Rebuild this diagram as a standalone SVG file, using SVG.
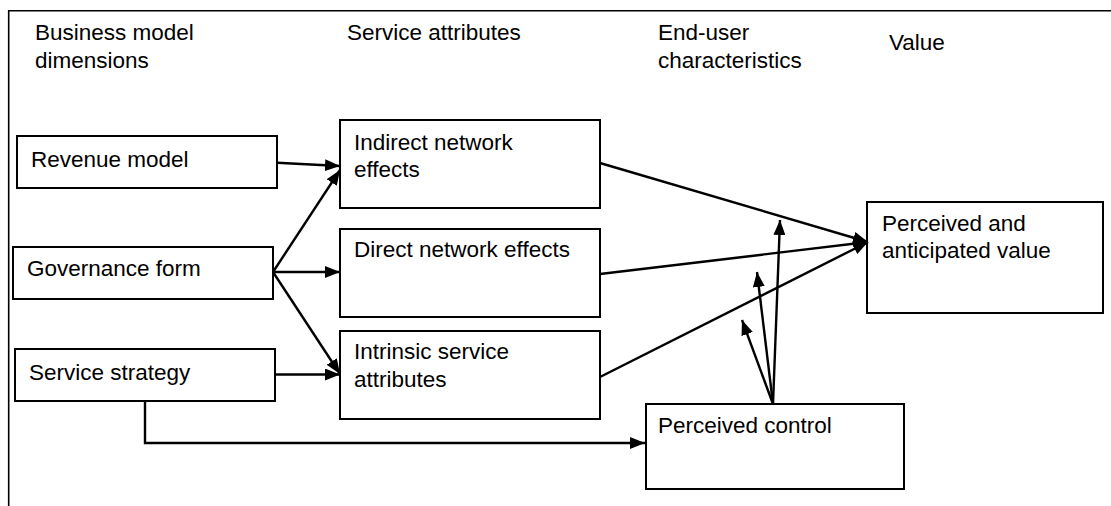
<svg xmlns="http://www.w3.org/2000/svg" width="1111" height="506" viewBox="0 0 1111 506">
<style>
text{font-family:"Liberation Sans",Arial,sans-serif;font-size:22.5px;fill:#000}
.box{fill:#fff;stroke:#000;stroke-width:2}
.ln{fill:none;stroke:#000;stroke-width:2.4}
.frame{fill:none;stroke:#000;stroke-width:1.6}
</style>
<defs>
<marker id="ah" viewBox="0 0 15 12" refX="15" refY="6" markerWidth="15" markerHeight="12" markerUnits="userSpaceOnUse" orient="auto">
<path d="M0,0 L15,6 L0,12 Z" fill="#000"/>
</marker>
</defs>
<path class="frame" d="M8.7,506 V10.8 H1111"/>
<g id="headers">
<text x="35" y="40">Business model</text>
<text x="35" y="68">dimensions</text>
<text x="347" y="40">Service attributes</text>
<text x="658" y="40">End-user</text>
<text x="658" y="68">characteristics</text>
<text x="889" y="50">Value</text>
</g>
<g id="revenue"><rect class="box" x="17" y="136" width="260" height="52"/><text x="31" y="167">Revenue model</text></g>
<g id="governance"><rect class="box" x="13" y="247" width="260" height="52"/><text x="27" y="276">Governance form</text></g>
<g id="strategy"><rect class="box" x="15" y="349" width="260" height="52"/><text x="29" y="380">Service strategy</text></g>
<g id="indirect"><rect class="box" x="340" y="120" width="260" height="88"/><text x="354" y="150">Indirect network</text><text x="354" y="177">effects</text></g>
<g id="direct"><rect class="box" x="340" y="229" width="260" height="88"/><text x="354" y="257">Direct network effects</text></g>
<g id="intrinsic"><rect class="box" x="340" y="331" width="260" height="88"/><text x="354" y="359">Intrinsic service</text><text x="354" y="387">attributes</text></g>
<g id="value"><rect class="box" x="867" y="202" width="236" height="111"/><text x="882" y="231">Perceived and</text><text x="882" y="258">anticipated value</text></g>
<g id="control"><rect class="box" x="646" y="404" width="258" height="85"/><text x="658" y="433">Perceived control</text></g>
<g id="connectors">
<path class="ln" d="M277,162.7 L340,166" marker-end="url(#ah)"/>
<path class="ln" d="M273,272 L340,170" marker-end="url(#ah)"/>
<path class="ln" d="M273,272 L340,272" marker-end="url(#ah)"/>
<path class="ln" d="M273,272 L340,374" marker-end="url(#ah)"/>
<path class="ln" d="M275,374.5 L340,374.5" marker-end="url(#ah)"/>
<path class="ln" d="M145,401 V443 H645" marker-end="url(#ah)"/>
<path class="ln" d="M600,163 L868,242" marker-end="url(#ah)"/>
<path class="ln" d="M600,274 L868,242" marker-end="url(#ah)"/>
<path class="ln" d="M600,377 L868,242" marker-end="url(#ah)"/>
<path class="ln" d="M773,404 L780,220" marker-end="url(#ah)"/>
<path class="ln" d="M773,404 L757,272" marker-end="url(#ah)"/>
<path class="ln" d="M773,404 L742,320" marker-end="url(#ah)"/>
</g>
</svg>
